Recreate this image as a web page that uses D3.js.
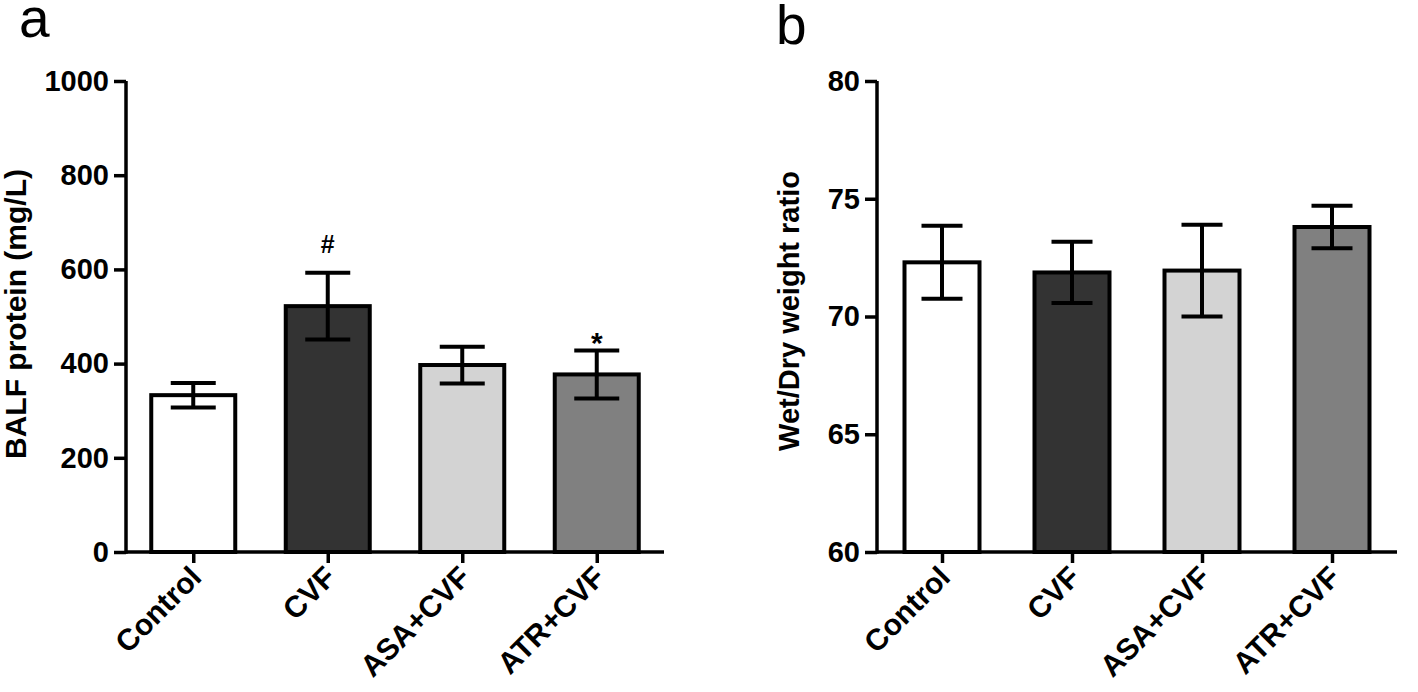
<!DOCTYPE html>
<html>
<head>
<meta charset="utf-8">
<script src="https://cdn.jsdelivr.net/npm/d3@7"></script>
<style>
  html, body { margin: 0; padding: 0; background: #fff; }
  svg { display: block; }
  text { font-family: "Liberation Sans", Arial, Helvetica, sans-serif; }
</style>
</head>
<body>
<svg id="chart" width="1418" height="692"></svg>
<script>
// ---------- data ----------
const categories = ["Control", "CVF", "ASA+CVF", "ATR+CVF"];
const barColors = ["#ffffff", "#333333", "#d3d3d3", "#808080"];

const balfMean = [333, 522, 397, 377];
const balfErr  = [26, 71, 39, 51];
const balfTicks = [0, 200, 400, 600, 800, 1000];
const balfMarks = ["", "#", "", "*"];

const ratioMean = [72.3, 71.87, 71.95, 73.8];
const ratioErr  = [1.55, 1.3, 1.95, 0.9];
const ratioTicks = [60, 65, 70, 75, 80];

// ---------- drawing ----------
const svg = d3.select("#chart");
const FONT = "\"Liberation Sans\", Arial, Helvetica, sans-serif";

function panel(opts) {
  const g = svg.append("g");
  const x = d3.scalePoint().domain(categories).range([opts.x0, opts.x1]).padding(0.5);
  const y = d3.scaleLinear().domain(opts.domain).range([552, 81]);

  // bars
  g.selectAll("rect.bar").data(categories).join("rect")
    .attr("class", "bar")
    .attr("x", d => x(d) - opts.barW / 2)
    .attr("width", opts.barW)
    .attr("y", (d, i) => y(opts.mean[i]))
    .attr("height", (d, i) => y(opts.domain[0]) - y(opts.mean[i]))
    .attr("fill", (d, i) => barColors[i])
    .attr("stroke", "#000")
    .attr("stroke-width", 4);

  // error bars
  const eb = g.selectAll("g.err").data(categories).join("g").attr("class", "err")
    .attr("stroke", "#000").attr("stroke-width", 4);
  eb.append("line")
    .attr("x1", d => x(d)).attr("x2", d => x(d))
    .attr("y1", (d, i) => y(opts.mean[i] + opts.err[i]))
    .attr("y2", (d, i) => y(opts.mean[i] - opts.err[i]));
  eb.append("line")
    .attr("x1", d => x(d) - opts.capW / 2).attr("x2", d => x(d) + opts.capW / 2)
    .attr("y1", (d, i) => y(opts.mean[i] + opts.err[i]))
    .attr("y2", (d, i) => y(opts.mean[i] + opts.err[i]));
  eb.append("line")
    .attr("x1", d => x(d) - opts.capW / 2).attr("x2", d => x(d) + opts.capW / 2)
    .attr("y1", (d, i) => y(opts.mean[i] - opts.err[i]))
    .attr("y2", (d, i) => y(opts.mean[i] - opts.err[i]));

  // y axis
  const ya = g.append("g").attr("transform", `translate(${opts.x0},0)`)
    .call(d3.axisLeft(y).tickValues(opts.ticks).tickFormat(d3.format("d"))
      .tickSize(12).tickSizeOuter(0).tickPadding(5));
  ya.select(".domain").attr("stroke", "#000").attr("stroke-width", 3.5)
    .attr("d", `M0,${y(opts.domain[0]) + 1.75}V${y(opts.domain[1])}`);
  ya.selectAll(".tick line").attr("stroke", "#000").attr("stroke-width", 3.5);
  ya.selectAll(".tick text").attr("fill", "#000")
    .style("font-family", FONT).style("font-weight", "bold").style("font-size", "29px");

  // x axis
  const xa = g.append("g").attr("transform", `translate(0,${y(opts.domain[0])})`)
    .call(d3.axisBottom(x).tickSize(11).tickSizeOuter(0).tickFormat(""));
  xa.select(".domain").attr("stroke", "#000").attr("stroke-width", 3.5)
    .attr("d", `M${opts.x0},0H${opts.x1}`);
  xa.selectAll(".tick line").attr("stroke", "#000").attr("stroke-width", 3.5);

  // category labels
  g.selectAll("text.cat").data(categories).join("text")
    .attr("class", "cat")
    .attr("transform", d => `translate(${x(d) + 10},${579}) rotate(-45)`)
    .attr("text-anchor", "end")
    .style("font-weight", "bold").style("font-size", "30px")
    .attr("fill", "#000")
    .text(d => d);

  // y title
  g.append("text")
    .attr("transform", `translate(${opts.titleX},${opts.titleY}) rotate(-90)`)
    .attr("text-anchor", "middle")
    .style("font-weight", "bold").style("font-size", opts.titleSize + "px")
    .attr("fill", "#000")
    .text(opts.title);

  return { x, y, g };
}

const A = panel({
  x0: 126, x1: 664, barW: 84, capW: 45, domain: [0, 1000],
  mean: balfMean, err: balfErr, ticks: balfTicks,
  title: "BALF protein (mg/L)", titleX: 26, titleY: 314, titleSize: 30
});

const B = panel({
  x0: 877, x1: 1397, barW: 75, capW: 41, domain: [60, 80],
  mean: ratioMean, err: ratioErr, ticks: ratioTicks,
  title: "Wet/Dry weight ratio", titleX: 799, titleY: 311, titleSize: 29
});

// significance marks (panel a)
A.g.selectAll("text.mark").data(categories).join("text")
  .attr("class", "mark")
  .attr("x", d => A.x(d))
  .attr("y", (d, i) => A.y(balfMean[i] + balfErr[i]) + (balfMarks[i] === "*" ? 3 : -20))
  .attr("text-anchor", "middle")
  .style("font-size", (d, i) => balfMarks[i] === "*" ? "30px" : "25px")
  .style("font-weight", "bold")
  .attr("fill", "#000")
  .text((d, i) => balfMarks[i]);

// panel letters
svg.append("text").attr("x", 19).attr("y", 37)
  .style("font-size", "55px").attr("fill", "#000").text("a");
svg.append("text").attr("x", 776).attr("y", 44)
  .style("font-size", "55px").attr("fill", "#000").text("b");
</script>
</body>
</html>
